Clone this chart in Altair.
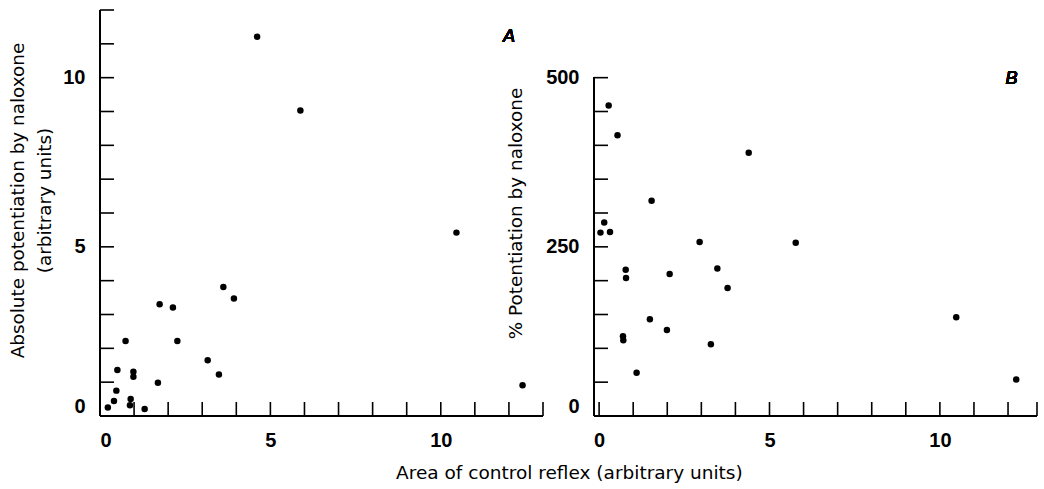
import altair as alt
import pandas as pd

# Panel A: absolute potentiation vs area of control reflex
ctrl_a = [0.23, 0.41, 0.48, 0.51, 0.75, 0.88, 0.90, 0.98, 0.98, 1.31, 1.70, 1.75,
          2.14, 2.27, 3.16, 3.49, 3.62, 3.93, 4.61, 5.88, 10.46, 12.40]
abs_pot = [0.25, 0.44, 0.75, 1.36, 2.22, 0.32, 0.50, 1.31, 1.16, 0.21, 0.98, 3.30,
           3.21, 2.22, 1.65, 1.23, 3.81, 3.47, 11.21, 9.03, 5.42, 0.91]

# Panel B: % potentiation vs area of control reflex
ctrl_b = [0.04, 0.15, 0.28, 0.32, 0.54, 0.70, 0.71, 0.78, 0.79, 1.10, 1.49, 1.54,
          1.99, 2.07, 2.95, 3.28, 3.47, 3.77, 4.39, 5.77, 10.48, 12.24]
pct_pot = [271, 286, 459, 272, 415, 118, 112, 216, 204, 64, 143, 318,
           127, 210, 257, 106, 218, 189, 389, 256, 146, 54]

# tick marks and labelled values
a_xticks = list(range(0, 14))
a_yticks = list(range(0, 13))
b_xticks = list(range(0, 13)) + [12.85]
b_yticks = list(range(0, 501, 50))
a_xlabels = [0, 5, 10]
a_ylabels = [0, 5, 10]
b_xlabels = [0, 5, 10]
b_ylabels = [0, 250, 500]

W, H, TICK = 443, 406, 14
TICKFONT = "Liberation Sans"
TITLEFONT = "DejaVu Sans"

df_a = pd.DataFrame({"x": ctrl_a, "y": abs_pot})
df_b = pd.DataFrame({"x": ctrl_b, "y": pct_pot})

common_axis = dict(ticks=False, domain=False, grid=False, labelColor="black",
                   labelFont=TICKFONT, labelFontSize=20, labelFontWeight="bold",
                   labelOverlap=False, labelFlush=True,
                   titleFont=TITLEFONT, titleFontSize=18.4, titleFontWeight="normal",
                   titleColor="black")


def panel(df, xdom, ydom, xticks, yticks, xlabels, ylabels, ytitle, ytitle_kw,
          yline_top, letter, letter_xy):
    xs = alt.Scale(domain=xdom, nice=False, zero=False)
    ys = alt.Scale(domain=ydom, nice=False, zero=False)
    xax = alt.Axis(values=xlabels, title=None, labelPadding=14, **common_axis)
    yax = alt.Axis(values=ylabels, title=ytitle, labelPadding=15, **ytitle_kw,
                   **common_axis)
    pts = alt.Chart(df).mark_circle(size=42, color="black", opacity=1).encode(
        x=alt.X("x:Q", scale=xs, axis=xax),
        y=alt.Y("y:Q", scale=ys, axis=yax),
    )
    xt = alt.Chart(pd.DataFrame({"x": xticks})).mark_rule(
        color="black", strokeWidth=1.6).encode(
        x=alt.X("x:Q", scale=xs, axis=xax), y=alt.value(H), y2=alt.value(H - TICK))
    yt = alt.Chart(pd.DataFrame({"y": yticks})).mark_rule(
        color="black", strokeWidth=1.6).encode(
        y=alt.Y("y:Q", scale=ys, axis=yax), x=alt.value(0), x2=alt.value(TICK))
    xline = alt.Chart(df).mark_rule(color="black", strokeWidth=2).encode(
        x=alt.value(0), x2=alt.value(W), y=alt.value(H))
    yline = alt.Chart(df).mark_rule(color="black", strokeWidth=2).encode(
        x=alt.value(0), y=alt.datum(0), y2=alt.datum(yline_top))
    lab = alt.Chart(df).mark_text(text=letter, font=TICKFONT, fontSize=18,
                                  fontStyle="italic", fontWeight="normal",
                                  color="black").encode(
        x=alt.datum(letter_xy[0]), y=alt.datum(letter_xy[1]))
    return alt.layer(pts, xt, yt, xline, yline, lab).properties(width=W, height=H)


panel_a = panel(df_a, [0, 13], [0, 12], a_xticks, a_yticks, a_xlabels, a_ylabels,
                ["Absolute potentiation by naloxone", "(arbitrary units)"],
                dict(titleLineHeight=27, titlePadding=8, titleY=190),
                12, "A", (12.0, 11.2))
panel_b = panel(df_b, [-0.15, 12.85], [0, 600], b_xticks, b_yticks, b_xlabels, b_ylabels,
                "% Potentiation by naloxone", dict(titlePadding=20),
                500, "B", (12.1, 498))

chart = alt.hconcat(
    panel_a, panel_b, spacing=51, bounds="flush",
    title=alt.TitleParams("Area of control reflex (arbitrary units)", orient="bottom",
                          anchor="middle", font=TITLEFONT, fontSize=18.5,
                          fontWeight="normal", color="black", offset=14, dx=46),
    padding={"left": 8, "top": 9, "right": 5, "bottom": 5},
    background="white",
).configure_view(strokeWidth=0, stroke="transparent")

chart.save("out.html", embed_options={"renderer": "svg", "actions": False})
